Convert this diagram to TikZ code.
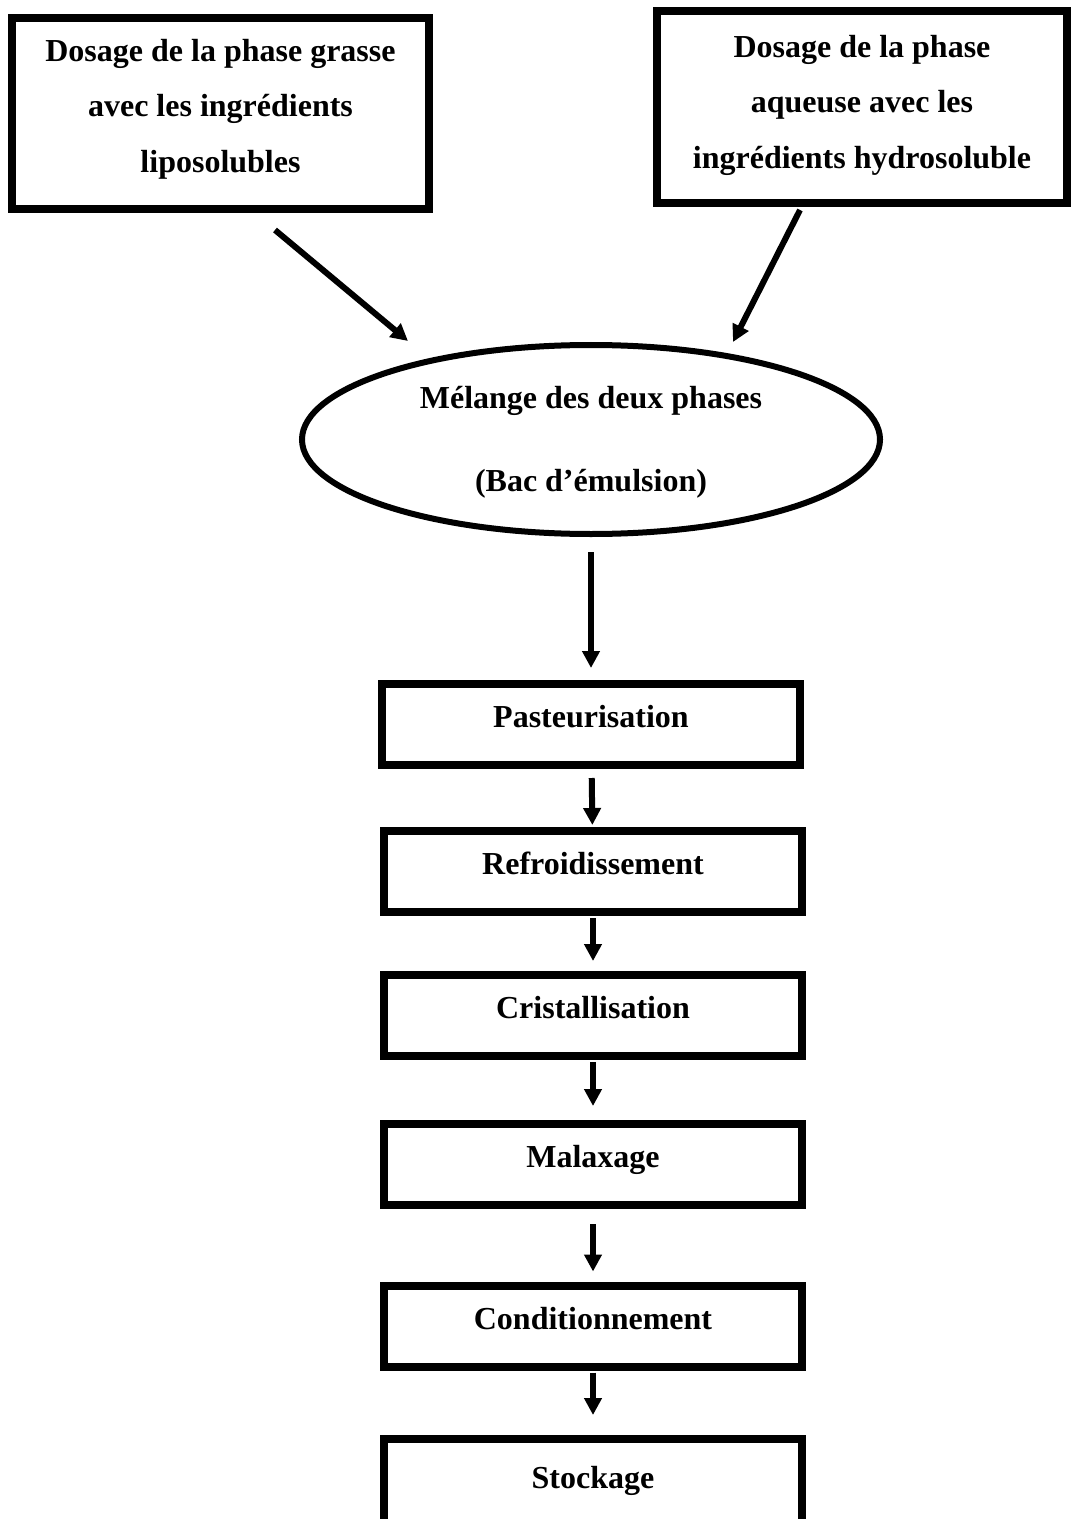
\documentclass[tikz,border=0pt]{standalone}
\usepackage{fontspec}
\setmainfont{Liberation Serif}
\usetikzlibrary{arrows.meta,shapes.geometric}

\begin{document}
\begin{tikzpicture}[x=0.5pt,y=-0.5pt,
  font=\bfseries\fontsize{16}{27.75}\selectfont,
  inbox/.style={draw,line width=4pt,rectangle,align=center,minimum width=208.5pt,minimum height=95.5pt,text depth=8pt},
  stepbox/.style={draw,line width=4pt,rectangle,minimum width=209pt,minimum height=40.5pt,text height=10pt,text depth=7pt},
  mixnode/.style={draw,line width=3pt,ellipse,align=center,minimum width=289pt,minimum height=94.5pt,inner sep=0pt,text height=57.5pt,text depth=5.5pt,font=\bfseries\fontsize{16}{41.5}\selectfont},
  flow/.style={line width=3pt,-{Triangle[length=8.5pt,width=8.5pt]}}]
\useasboundingbox (0,0) rectangle (1072,1519);
\node[inbox] (grasse) at (220.5,113.5) {Dosage de la phase grasse\\avec les ingrédients\\liposolubles};
\node[inbox,minimum width=205pt,minimum height=96pt,text depth=5.5pt] (aqueuse) at (862,107) {Dosage de la phase\\aqueuse avec les\\ingrédients hydrosoluble};
\node[mixnode] (melange) at (591,439.5) {Mélange des deux phases\\(Bac d’émulsion)};
\node[stepbox] (pasteur) at (591,724.5) {Pasteurisation};
\node[stepbox] (refroid) at (593,871.5) {Refroidissement};
\node[stepbox] (cristal) at (593,1015.5) {Cristallisation};
\node[stepbox] (malax) at (593,1164.5) {Malaxage};
\node[stepbox] (condit) at (593,1326) {Conditionnement};
\node[stepbox,minimum height=43pt,text depth=4pt] (stock) at (593,1482) {Stockage};
% arrows to the mixing tank
\coordinate (gdep) at (275,230);
\coordinate (garr) at (408,341);
\coordinate (adep) at (800,210);
\coordinate (aarr) at (733,342);
\draw[flow] (gdep) -- (garr);
\draw[flow] (adep) -- (aarr);
% process line
\draw[flow,shorten <=7.5pt,shorten >=6pt] (melange) -- (pasteur);
\draw[flow,shorten <=4.5pt,shorten >=1pt] (pasteur) -- (refroid);
\draw[flow,shorten <=1pt,shorten >=5pt] (refroid) -- (cristal);
\draw[flow,shorten <=1pt,shorten >=7pt] (cristal) -- (malax);
\draw[flow,shorten <=7.5pt,shorten >=5pt] (malax) -- (condit);
\draw[flow,shorten <=1pt,shorten >=10pt] (condit) -- (stock);
\end{tikzpicture}
\end{document}
